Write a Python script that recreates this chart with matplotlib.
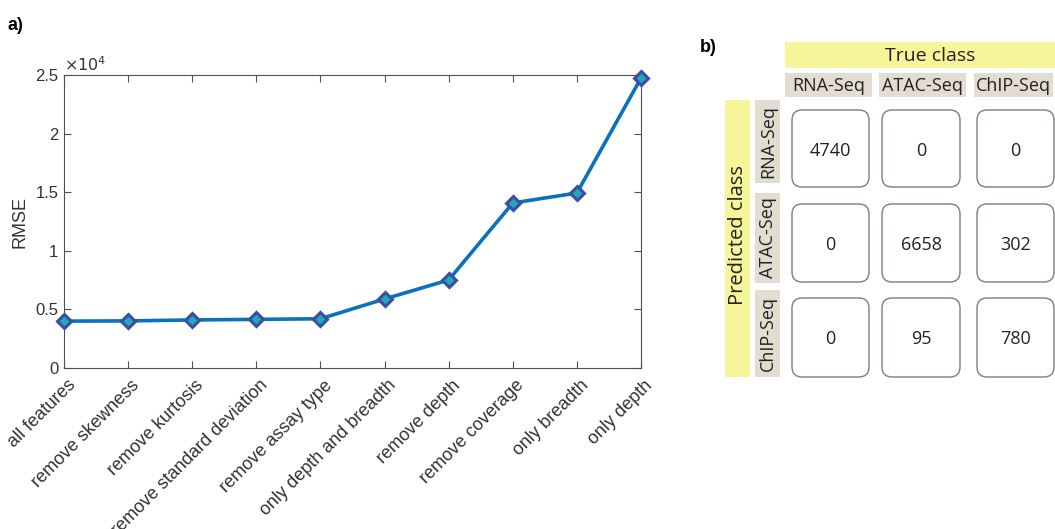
import numpy as np
import matplotlib.pyplot as plt
import matplotlib.transforms as mtransforms
from matplotlib.patches import FancyBboxPatch, Rectangle

# panel a) feature ablation
features = ['all features', 'remove skewness', 'remove kurtosis',
            'remove standard deviation', 'remove assay type',
            'only depth and breadth', 'remove depth', 'remove coverage',
            'only breadth', 'only depth']
rmse = [4000, 4020, 4100, 4150, 4200, 5890, 7510, 14080, 14930, 24740]

# panel b) confusion matrix (rows = predicted, cols = true)
classes = ['RNA-Seq', 'ATAC-Seq', 'ChIP-Seq']
confusion = [[4740, 0, 0],
             [0, 6658, 302],
             [0, 95, 780]]

W, H = 1055, 529
fig = plt.figure(figsize=(W / 100, H / 100), dpi=100)

axc = '#505050'
ax = fig.add_axes([64 / W, 1 - 368 / H, (641 - 64) / W, (368 - 75) / H])
x = np.arange(1, len(features) + 1)
ax.plot(x, np.array(rmse) / 1e4, color='#0a72bd', lw=2.6, marker='D', ms=7.5,
        mfc='#22a9b8', mec='#3b4ea3', mew=2.2, zorder=3, clip_on=False)
ax.set_xlim(1, 10)
ax.set_ylim(0, 2.5)
ax.set_xticks(x)
ax.set_xticklabels(features, rotation=45, ha='right', va='center',
                   rotation_mode='anchor')
ax.set_yticks([0, 0.5, 1, 1.5, 2, 2.5])
ax.set_yticklabels(['0', '0.5', '1', '1.5', '2', '2.5'])
ax.tick_params(direction='in', top=True, right=True, length=5, width=0.8,
               color=axc, labelcolor='#333333', labelsize=12, pad=4)
ax.tick_params(axis='x', labelsize=13, pad=2)
shift = mtransforms.ScaledTranslation(9 / 100, -12 / 100, fig.dpi_scale_trans)
for lab in ax.get_xticklabels():
    lab.set_transform(lab.get_transform() + shift)
for s in ax.spines.values():
    s.set_color(axc)
    s.set_linewidth(0.8)
for lab in ax.get_xticklabels() + ax.get_yticklabels():
    lab.set_fontfamily('Liberation Sans')
ax.set_ylabel('RMSE', fontsize=13, color='#333333', family='Liberation Sans',
              labelpad=5)
ax.text(0, 1.005, r'$\times10^4$', transform=ax.transAxes, fontsize=11.5,
        color='#333333', ha='left', va='bottom', family='Liberation Sans')

fig.text(8 / W, 1 - 25 / H, 'a)', fontsize=13, fontweight='bold',
         family='Liberation Sans', va='center')
fig.text(700 / W, 1 - 48 / H, 'b)', fontsize=13, fontweight='bold',
         family='Liberation Sans', va='center')

# panel b) drawn in pixel coordinates
bx = fig.add_axes([0, 0, 1, 1])
bx.set_xlim(0, W)
bx.set_ylim(H, 0)
bx.axis('off')
bx.patch.set_alpha(0)

yellow = '#f7f59a'
beige = '#e3dcd1'
font = 'Open Sans'
ink = '#222222'

bx.add_patch(Rectangle((785, 42), W - 785, 26, color=yellow, lw=0))
bx.text(930, 56, 'True class', ha='center', va='center', fontsize=14,
        family=font, color=ink)
bx.add_patch(Rectangle((725, 100), 25, 277, color=yellow, lw=0))
bx.text(738, 235, 'Predicted class', ha='center', va='center', fontsize=14.5,
        family=font, rotation=90, color=ink)

col_x = [(785, 872), (879, 966), (974, 1053)]
row_y = [(100, 183), (193, 283), (290, 377)]
cell_x = [(792, 869), (882, 960), (977, 1054)]
cell_y = [(110, 187), (204, 282), (298, 377)]

for (x0, x1), name in zip(col_x, classes):
    bx.add_patch(Rectangle((x0, 73), x1 - x0, 24, color=beige, lw=0))
    bx.text((x0 + x1) / 2, 86, name, ha='center', va='center', fontsize=13,
            family=font, color=ink)
for (y0, y1), name in zip(row_y, classes):
    bx.add_patch(Rectangle((755, y0), 25, y1 - y0, color=beige, lw=0))
    bx.text(768, (y0 + y1) / 2, name, ha='center', va='center', fontsize=13,
            family=font, rotation=90, color=ink)

for i, (y0, y1) in enumerate(cell_y):
    for j, (x0, x1) in enumerate(cell_x):
        bx.add_patch(FancyBboxPatch((x0 + 10, y0 + 10), x1 - x0 - 20,
                                    y1 - y0 - 20,
                                    boxstyle='round,pad=10',
                                    fc='white', ec='#857c72', lw=1.0))
        bx.text((x0 + x1) / 2, (y0 + y1) / 2 + 2, str(confusion[i][j]),
                ha='center', va='center', fontsize=13, family=font,
                color=ink)

fig.savefig('out.png', dpi=100)
